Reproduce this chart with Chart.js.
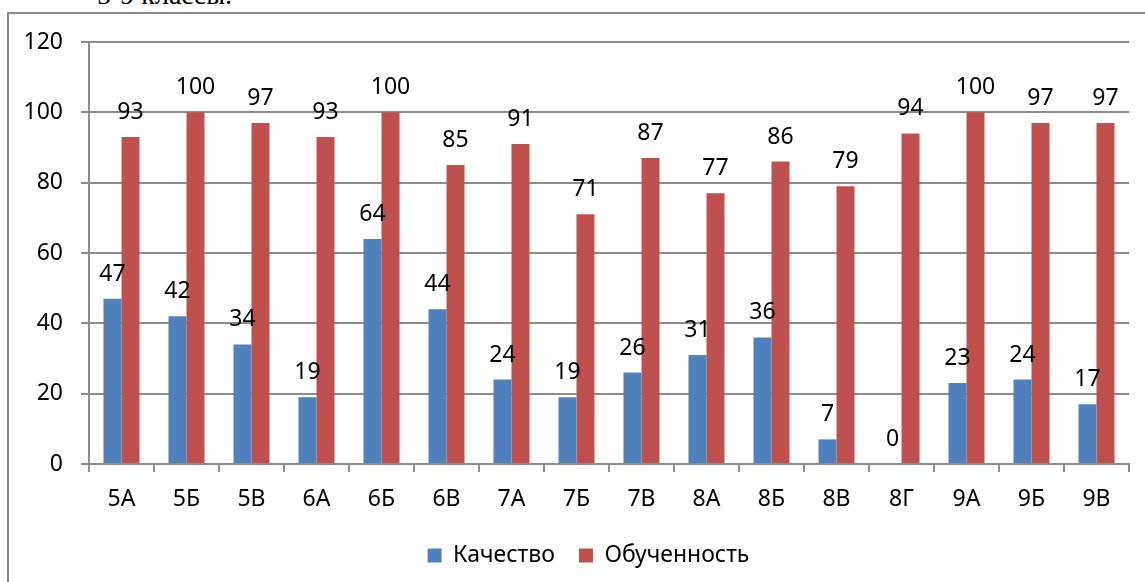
<!DOCTYPE html>
<html>
<head>
<meta charset="utf-8">
<script src="https://cdn.jsdelivr.net/npm/chart.js@4"></script>
<style>
  body { margin: 0; background: #fff; overflow: hidden; }
  #title { position: absolute; left: 97px; top: -21px; font: 28px "Liberation Serif", serif; color: #000; }
  #frame { position: absolute; left: 7px; top: 12px; width: 1200px; height: 700px; border: 2px solid #8a8a8a; box-sizing: border-box; }
  #wrap { position: absolute; left: 0; top: 0; width: 1145px; height: 582px; }
</style>
</head>
<body>
<div id="title">5-9 классы.</div>
<div id="frame"></div>
<div id="wrap"><canvas id="chart"></canvas></div>
<script>
const ctx = document.getElementById("chart").getContext("2d");
// classes and values
const classes = ["5А", "5Б", "5В", "6А", "6Б", "6В", "7А", "7Б", "7В", "8А", "8Б", "8В", "8Г", "9А", "9Б", "9В"];
const quality = [47, 42, 34, 19, 64, 44, 24, 19, 26, 31, 36, 7, 0, 23, 24, 17];
const learned = [93, 100, 97, 93, 100, 85, 91, 71, 87, 77, 86, 79, 94, 100, 97, 97];
const yTicks = [0, 20, 40, 60, 80, 100, 120];

const fontFamily = "'Noto Sans', 'Open Sans', sans-serif";
const fontSize = 23;
const gridColor = "#8c8c8c";

// value labels above the bars
const valueLabels = {
  id: "valueLabels",
  afterDatasetsDraw(chart) {
    const c = chart.ctx;
    c.save();
    c.font = fontSize + "px " + fontFamily;
    c.fillStyle = "#000";
    c.textAlign = "center";
    c.textBaseline = "alphabetic";
    chart.data.datasets.forEach((ds, i) => {
      chart.getDatasetMeta(i).data.forEach((bar, j) => {
        c.fillText(String(ds.data[j]), bar.x, bar.y - 18);
      });
    });
    c.restore();
  },
};

// legend sits a bit right of centre in the original
const legendShift = {
  id: "legendShift",
  afterLayout(chart) {
    if (chart.legend) {
      chart.legend.left += 19;
      chart.legend.right += 19;
    }
  },
};

const myChart = new Chart(ctx, {
  type: "bar",
  data: {
    labels: classes,
    datasets: [
      {
        label: "Качество",
        data: quality,
        backgroundColor: "#4f81bd",
      },
      {
        label: "Обученность",
        data: learned,
        backgroundColor: "#c0504d",
      },
    ],
  },
  options: {
    responsive: true,
    maintainAspectRatio: false,
    animation: false,
    categoryPercentage: 0.554,
    barPercentage: 1,
    layout: {
      padding: { left: 10, right: 16, top: 42, bottom: 5 },
    },
    plugins: {
      legend: {
        position: "bottom",
        labels: {
          boxWidth: 14,
          boxHeight: 14,
          padding: 24,
          color: "#000",
          font: { family: fontFamily, size: fontSize },
        },
      },
      tooltip: { enabled: false },
    },
    scales: {
      x: {
        grid: {
          display: true,
          drawOnChartArea: false,
          drawTicks: true,
          tickLength: 8,
          offset: true,
          color: gridColor,
          lineWidth: 2,
        },
        border: { color: gridColor, width: 2 },
        ticks: {
          color: "#000",
          padding: 14,
          font: { family: fontFamily, size: fontSize },
        },
        afterFit(scale) {
          scale.height = 56;
        },
      },
      y: {
        min: 0,
        max: 120,
        afterBuildTicks(scale) {
          scale.ticks = yTicks.map((v) => ({ value: v }));
        },
        grid: {
          color: gridColor,
          lineWidth: 2,
          tickLength: 8,
        },
        border: { color: gridColor, width: 2 },
        ticks: {
          color: "#000",
          padding: 18,
          font: { family: fontFamily, size: fontSize },
        },
        afterFit(scale) {
          scale.width = 79;
        },
      },
    },
  },
  plugins: [valueLabels, legendShift],
});
</script>
</body>
</html>
